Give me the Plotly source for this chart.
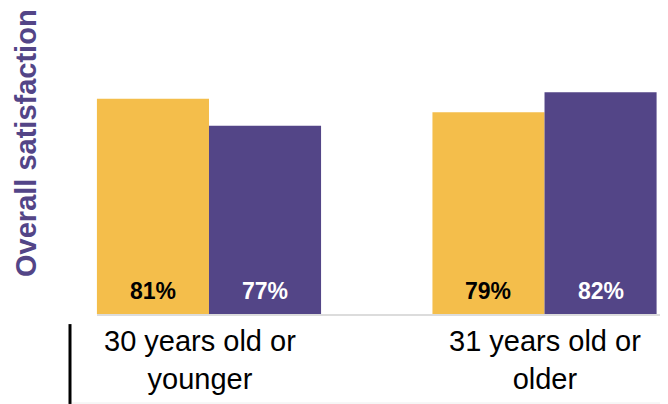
import plotly.graph_objects as go

# Data
categories = ["30 years old or<br>younger", "31 years old or<br>older"]
series_names = ["Series A", "Series B"]
series_a = [81, 79]
series_b = [77, 82]
label_a = ["81%", "79%"]
label_b = ["77%", "82%"]

YELLOW = "#F4BE4B"
PURPLE = "#534587"
FONT = "Liberation Sans, Arial, sans-serif"

# page body adds an 8px margin, so the figure is a bit smaller than the window
W, H = 660, 396
PLOT_H = 306
x_range = [-0.599, 1.368]
y_range = [48.87, 94.57]
bargap = 0.332
cat_label_shift = [-9, 0]  # first label sits a little left of its bars in the original

fig = go.Figure()
fig.add_trace(go.Bar(x=categories, y=series_a, name=series_names[0],
                     marker=dict(color=YELLOW, line=dict(width=0))))
fig.add_trace(go.Bar(x=categories, y=series_b, name=series_names[1],
                     marker=dict(color=PURPLE, line=dict(width=0))))

# value labels sitting at the foot of each bar
unit_px = W / (x_range[1] - x_range[0])
half_bar = (1 - bargap) * unit_px / 4
for i, cat in enumerate(categories):
    fig.add_annotation(x=cat, y=y_range[0], xref="x", yref="y", text=f"<b>{label_a[i]}</b>",
                       showarrow=False, xshift=-half_bar, yshift=23, yanchor="middle",
                       font=dict(family=FONT, size=23, color="black"))
    fig.add_annotation(x=cat, y=y_range[0], xref="x", yref="y", text=f"<b>{label_b[i]}</b>",
                       showarrow=False, xshift=half_bar, yshift=23, yanchor="middle",
                       font=dict(family=FONT, size=23, color="white"))
    # category label under the group
    fig.add_annotation(x=cat, y=0, xref="x", yref="paper", text=cat,
                       showarrow=False, xshift=cat_label_shift[i], yshift=-9, yanchor="top",
                       font=dict(family=FONT, size=29, color="black"))

# vertical axis title
fig.add_annotation(x=18 / W, y=0.559, xref="paper", yref="paper", text="<b>Overall satisfaction</b>",
                   textangle=-90, showarrow=False, xanchor="center", yanchor="middle",
                   font=dict(family=FONT, size=29, color=PURPLE))

# thin rules like the original slide table
fig.add_shape(type="line", xref="paper", yref="paper", x0=89 / W, x1=1, y0=-0.003, y1=-0.003,
              line=dict(color="#DCDCDC", width=2))
fig.add_shape(type="line", xref="paper", yref="paper", x0=64 / W, x1=1, y0=-0.291, y1=-0.291,
              line=dict(color="#EEEEEE", width=1))
fig.add_shape(type="line", xref="paper", yref="paper", x0=62 / W, x1=62 / W, y0=-0.033, y1=-0.294,
              line=dict(color="black", width=3))

fig.update_layout(
    width=W, height=H,
    margin=dict(l=0, r=0, t=0, b=H - PLOT_H),
    barmode="group", bargap=bargap, bargroupgap=0,
    showlegend=False,
    paper_bgcolor="white", plot_bgcolor="white",
    xaxis=dict(range=x_range, showgrid=False, zeroline=False, showline=False, ticks="",
               showticklabels=False),
    yaxis=dict(range=y_range, visible=False, showgrid=False, zeroline=False),
)

fig.write_html("out.html")
